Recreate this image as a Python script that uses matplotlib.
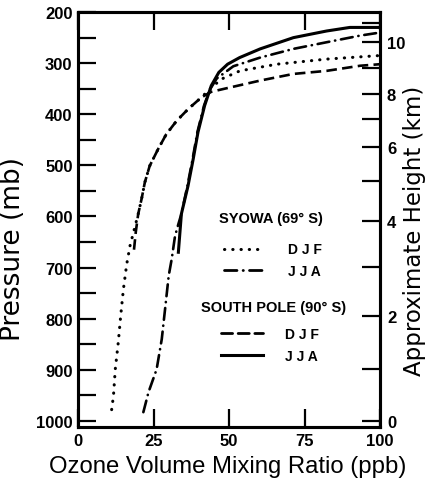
import matplotlib
matplotlib.use('Agg')
import matplotlib.pyplot as plt
from matplotlib.lines import Line2D

plt.rcParams['font.family'] = ['Liberation Sans', 'DejaVu Sans']

# Syowa (69 S), summer (DJF) and winter (JJA)
syowa_djf_ppb = [11.1, 11.7, 12.3, 13.3, 14.1, 15.0, 16.1, 17.2, 18.6, 19.9, 21.0, 22.1,
                 23.7, 26.5, 29.2, 32.6, 36.4, 40.8, 44.3, 47.5, 53.6, 65.8, 82.3, 100]
syowa_djf_mb = [978, 951, 899, 846, 794, 742, 693, 657, 625, 595, 566, 533,
                501, 468, 439, 413, 390, 367, 347, 331, 315, 302, 292, 285]

syowa_jja_ppb = [21.6, 23.3, 26.0, 27.7, 28.8, 30.0, 31.0, 32.1, 33.2, 34.2, 36.2, 37.9,
                 39.5, 41.7, 43.6, 45.9, 51.4, 60.3, 71.3, 82.3, 93.4, 100]
syowa_jja_mb = [983, 944, 899, 840, 781, 716, 683, 638, 615, 595, 540, 488,
                435, 383, 352, 330, 306, 289, 272, 259, 246, 240]

# South Pole (90 S)
pole_djf_ppb = [18.5, 19.1, 19.9, 21.0, 22.1, 23.7, 26.5, 29.2, 32.6, 36.4, 40.8, 44.1,
                49.2, 60.3, 71.3, 82.3, 93.4, 100]
pole_djf_mb = [665, 630, 595, 566, 533, 501, 468, 439, 413, 390, 367, 356,
               349, 334, 321, 315, 305, 302]

pole_jja_ppb = [33.2, 34.2, 36.4, 38.1, 39.7, 41.9, 44.1, 46.6, 49.5, 53.5, 60.3, 71.3,
                82.3, 90.0, 100]
pole_jja_mb = [670, 595, 540, 488, 435, 383, 344, 318, 302, 289, 272, 250,
               237, 230, 230]

x_ticks = [0, 25, 50, 75, 100]
p_major = [200, 300, 400, 500, 600, 700, 800, 900, 1000]
p_minor = [250, 350, 450, 550, 650, 750, 850, 950]

# approximate height scale (km) and the pressure level of each tick
km_major = [0, 2, 4, 6, 8, 10]
km_major_mb = [1000, 795, 609, 464, 360, 259]
km_minor_mb = [899, 699, 531, 409, 310, 222]

dotted = (0, (0.1, 2.6))
dashdot = (0, (4.5, 2.2, 0.1, 2.2))
dashed = (0, (4.0, 2.0))

tick_font = {'family': ['Liberation Sans Narrow', 'Liberation Sans'], 'weight': 'bold', 'size': 12}

fig = plt.figure(figsize=(4.27, 4.85), dpi=100)
ax = fig.add_axes([0.183, 0.1175, 0.707, 0.8555])

ax.plot(syowa_djf_ppb, syowa_djf_mb, color='black', lw=2.2, ls=dotted, dash_capstyle='round')
ax.plot(syowa_jja_ppb, syowa_jja_mb, color='black', lw=1.9, ls=dashdot, dash_capstyle='round')
ax.plot(pole_djf_ppb, pole_djf_mb, color='black', lw=1.9, ls=dashed)
ax.plot(pole_jja_ppb, pole_jja_mb, color='black', lw=2.2, ls='-')

ax.set_xlim(0, 100)
ax.set_ylim(1012, 200)
ax.set_xticks(x_ticks)
ax.set_yticks(p_major)
ax.set_yticks(p_minor, minor=True)
ax.tick_params(axis='both', which='both', direction='in', length=13, width=1.6,
               top=True, pad=4)
for lab in ax.get_xticklabels() + ax.get_yticklabels():
    lab.set_fontproperties(tick_font)
for s in ax.spines.values():
    s.set_linewidth(2.2)

ax2 = ax.twinx()
ax2.set_ylim(1012, 200)
ax2.set_yticks(km_major_mb)
ax2.set_yticklabels([str(k) for k in km_major], fontdict=tick_font)
ax2.set_yticks(km_minor_mb, minor=True)
ax2.tick_params(axis='y', which='both', direction='in', length=13, width=1.6, pad=5)
for s in ax2.spines.values():
    s.set_linewidth(2.2)

ax.set_xlabel('Ozone Volume Mixing Ratio (ppb)', fontsize=17.2)
ax.xaxis.set_label_coords(0.495, -0.068)
ax.set_ylabel('Pressure (mb)', fontsize=19, family='DejaVu Sans')
ax.yaxis.set_label_coords(-0.172, 0.431)
ax2.set_ylabel('Approximate Height (km)', fontsize=16.5, family='DejaVu Sans')
ax2.yaxis.set_label_coords(1.076, 0.474)

# legend: two groups, each with its own heading
ax.text(0.639, 0.504, 'SYOWA (69° S)', transform=ax.transAxes, ha='center', va='center',
        fontsize=10.5, fontweight='bold')
ax.text(0.646, 0.289, 'SOUTH POLE (90° S)', transform=ax.transAxes, ha='center', va='center',
        fontsize=10.5, fontweight='bold')

def group(styles, anchor):
    handles = [Line2D([], [], color='black', lw=lw, ls=ls, dash_capstyle='round')
               for ls, lw in styles]
    return ax.legend(handles, ['D J F', 'J J A'], loc='center', bbox_to_anchor=anchor,
                     frameon=False, handlelength=3.0, handletextpad=1.6, labelspacing=0.55,
                     prop={'weight': 'bold', 'size': 10})

leg1 = group([(dotted, 2.2), (dashdot, 2.0)], (0.644, 0.402))
ax.add_artist(leg1)
leg2 = group([(dashed, 2.0), ('-', 2.2)], (0.636, 0.198))

fig.savefig('out.png', dpi=100)
